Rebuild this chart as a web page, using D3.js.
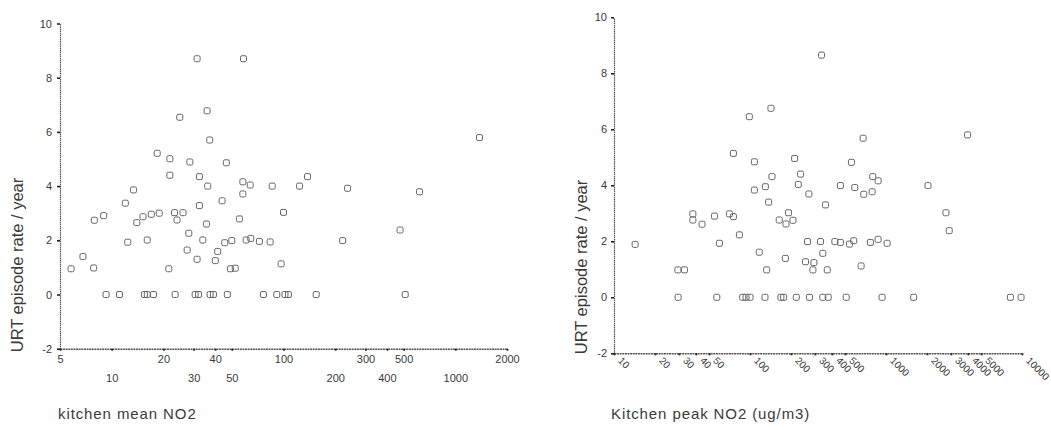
<!DOCTYPE html>
<html>
<head>
<meta charset="utf-8">
<script src="https://cdn.jsdelivr.net/npm/d3@7"></script>
<style>
  html, body { margin: 0; padding: 0; background: #fff; }
  svg { display: block; }
  text { font-family: "Liberation Sans", Arial, sans-serif; fill: #3a3a3a; }
</style>
</head>
<body>
<svg id="chart" width="1051" height="430"></svg>
<script>
// ---------- data ----------
const meanNO2 = [31.4, 58.5, 35.9, 24.9, 37.2, 1383, 18.4, 21.8, 28.5, 46.5, 21.8, 32.4, 138, 58, 64, 36.2, 86, 124, 236, 619,
  13.4, 58, 43.9, 12.0, 32.4, 100, 8.98, 7.92, 15.2, 14.0, 17.0, 18.9, 23.2, 26.0, 24.0, 35.6, 55.4, 28.1, 477, 12.4,
  16.1, 33.9, 45.5, 50, 60.6, 64.5, 72.4, 83.6, 221, 27.5, 41.4, 6.8, 31.4, 40.1, 96.9, 5.8, 7.85, 21.5, 49.1, 52.4,
  9.27, 11.1, 15.5, 16.1, 17.5, 23.4, 30.6, 32, 37.4, 39.1, 47.1, 76.4, 91.4, 102, 106.8, 155, 511];
const meanRate = [8.7, 8.7, 6.78, 6.54, 5.7, 5.79, 5.21, 5.01, 4.89, 4.86, 4.4, 4.35, 4.35, 4.16, 4.04, 4.0, 4.0, 4.0, 3.92, 3.79,
  3.86, 3.71, 3.46, 3.37, 3.28, 3.03, 2.91, 2.74, 2.87, 2.65, 2.96, 3.0, 3.02, 3.02, 2.75, 2.6, 2.79, 2.26, 2.38, 1.93,
  2.01, 2.01, 1.91, 1.99, 2.01, 2.07, 1.96, 1.94, 1.99, 1.64, 1.59, 1.4, 1.3, 1.25, 1.13, 0.95, 0.98, 0.95, 0.95, 0.97,
  0, 0, 0, 0, 0, 0, 0, 0, 0, 0, 0, 0, 0, 0, 0, 0, 0];

const peakNO2 = [142.6, 98.9, 75.5, 107.7, 145, 129.7, 107.7, 137, 38, 38, 44.4, 54.8, 70.6, 75.5, 192, 164, 184, 83.6, 14.3, 59.6,
  117, 182, 29.5, 33, 132.6, 335.7, 3981, 679, 212.8, 557, 235.5, 226.5, 271, 462, 589, 686, 791, 799, 875, 2036,
  359, 207, 2760, 2917, 265, 330, 421, 462, 539, 579, 768, 875, 1019, 343, 256, 295, 290, 370, 656,
  29.6, 57, 88.4, 93.5, 100, 128.9, 168.7, 176.7, 219, 274, 343, 376, 510, 936, 1597, 8222, 9843];
const peakRate = [6.75, 6.45, 5.14, 4.84, 4.31, 3.95, 3.83, 3.40, 2.98, 2.76, 2.61, 2.9, 2.98, 2.88, 3.02, 2.76, 2.62, 2.23, 1.89, 1.93,
  1.61, 1.39, 0.98, 0.98, 0.98, 8.65, 5.8, 5.68, 4.96, 4.82, 4.4, 4.03, 3.69, 3.99, 3.92, 3.68, 3.77, 4.31, 4.16, 3.99,
  3.3, 2.75, 3.02, 2.38, 1.99, 1.99, 1.99, 1.96, 1.9, 2.02, 1.96, 2.07, 1.93, 1.57, 1.27, 1.24, 0.98, 0.98, 1.12,
  0, 0, 0, 0, 0, 0, 0, 0, 0, 0, 0, 0, 0, 0, 0, 0, 0];

const yTicks = [-2, 0, 2, 4, 6, 8, 10];
const meanTicks = [5, 10, 20, 30, 40, 50, 100, 200, 300, 400, 500, 1000, 2000];
const peakTicks = [10, 20, 30, 40, 50, 100, 200, 300, 400, 500, 1000, 2000, 3000, 4000, 5000, 10000];

const yTitle = "URT episode rate / year";
const meanTitle = "kitchen mean NO2";
const peakTitle = "Kitchen peak NO2 (ug/m3)";

// ---------- drawing ----------
const svg = d3.select("#chart");
const axisColor = "#555";
const fmt = d => String(d);

function panel(cfg) {
  const x = d3.scaleLog().domain(cfg.xDomain).range(cfg.xRange);
  const y = d3.scaleLinear().domain([-2, 10]).range(cfg.yRange);
  const g = svg.append("g");

  // y axis
  const yAxis = g.append("g")
    .attr("transform", `translate(${cfg.xRange[0]},0)`)
    .call(d3.axisLeft(y).tickValues(yTicks).tickSize(3).tickSizeOuter(0).tickPadding(cfg.yPad).tickFormat(fmt));
  yAxis.select(".domain").attr("stroke", axisColor).attr("stroke-width", 1.2).attr("stroke-dasharray", "1.5,0.6");
  yAxis.selectAll(".tick line").attr("stroke", "#222").attr("stroke-width", 1.6);
  yAxis.selectAll(".tick text").attr("font-size", 11).attr("fill", "#444")
    .style("font-family", "'Liberation Sans', Arial, sans-serif");

  // x axis
  const xAxis = g.append("g")
    .attr("transform", `translate(0,${cfg.yRange[0]})`)
    .call(d3.axisBottom(x).tickValues(cfg.xTicks).tickSize(2).tickSizeOuter(0).tickFormat(fmt));
  xAxis.select(".domain").attr("stroke", axisColor).attr("stroke-width", 1.4).attr("stroke-dasharray", "2,0.6");
  xAxis.selectAll(".tick line").attr("stroke", "#222").attr("stroke-width", 1.8);
  const tt = xAxis.selectAll(".tick text").attr("fill", "#444")
    .style("font-family", "'Liberation Sans', Arial, sans-serif");
  if (cfg.rotate) {
    tt.attr("font-size", 10).attr("text-anchor", "start").attr("dy", null)
      .attr("y", 0)
      .attr("transform", "translate(3,8) rotate(45)");
  } else {
    tt.attr("font-size", 11).attr("y", (d, i) => i % 2 === 0 ? 7 : 26).attr("dy", "0.71em");
  }

  // points
  g.append("g").selectAll("rect")
    .data(cfg.xs.map((v, i) => [v, cfg.ys[i]]))
    .join("rect")
    .attr("x", d => x(d[0]) - 3)
    .attr("y", d => y(d[1]) - 3)
    .attr("width", 6).attr("height", 6).attr("rx", 1.5)
    .attr("fill", "none").attr("stroke", "#666").attr("stroke-width", 1);

  // y title
  g.append("text")
    .attr("transform", `translate(${cfg.yTitleX},${cfg.yTitleY}) rotate(-90)`)
    .attr("text-anchor", "middle")
    .attr("font-size", 16.5).attr("fill", "#444")
    .text(yTitle);

  // x title
  g.append("text")
    .attr("x", cfg.xTitleX).attr("y", 419)
    .attr("font-size", 15).attr("letter-spacing", 0.9).attr("fill", "#444")
    .text(cfg.xTitle);
}

panel({
  xDomain: [5, 2000], xRange: [60, 507], yRange: [348.7, 23.5],
  xTicks: meanTicks, xs: meanNO2, ys: meanRate, rotate: false, yPad: 5,
  yTitleX: 23, yTitleY: 265, xTitleX: 58, xTitle: meanTitle
});

panel({
  xDomain: [10, 10000], xRange: [614, 1022], yRange: [353.3, 17.3],
  xTicks: peakTicks, xs: peakNO2, ys: peakRate, rotate: true, yPad: 4,
  yTitleX: 587, yTitleY: 267, xTitleX: 611, xTitle: peakTitle
});
</script>
</body>
</html>
